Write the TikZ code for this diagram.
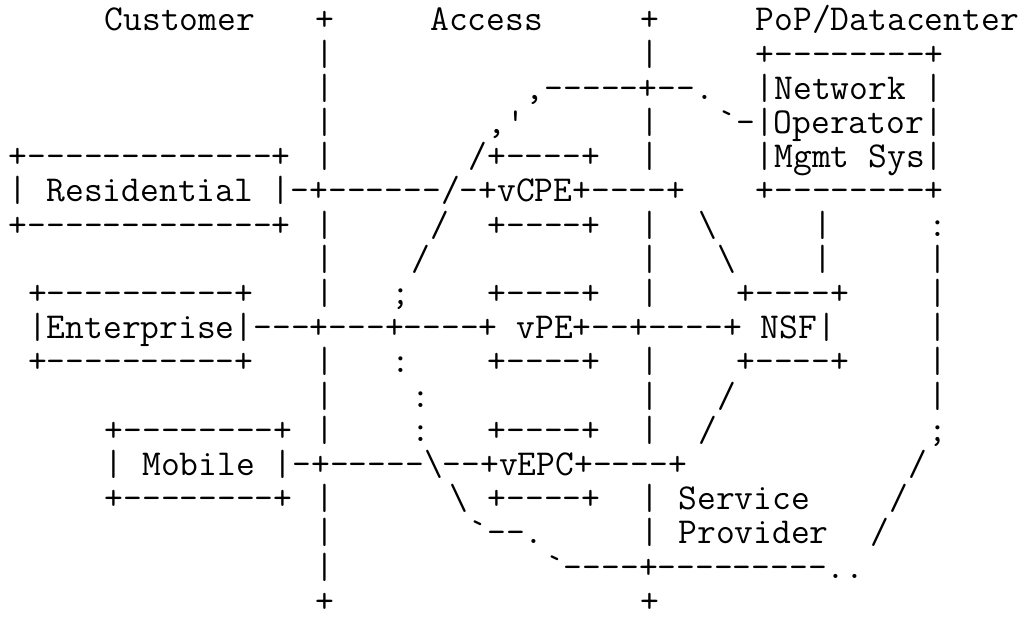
\documentclass[tikz,border=0pt]{standalone}
\usepackage{tikz}
\tikzset{art/.style={anchor=base west, inner sep=0pt, outer sep=0pt, font=\ttfamily\fontsize{18.24pt}{18pt}\selectfont}}

\begin{document}
\begin{tikzpicture}[x=9.575pt, y=-17.1pt]
			%%%%% START %%%%%
			\useasboundingbox (-0.466,-0.905) rectangle (53.32,17.282);
			
			\node[art] (hdcust) at (5,0) {Customer};
			\node[art] (hdplusa) at (16,0) {+};
			\node[art] (hdacc) at (22,0) {Access};
			\node[art] (hdplusb) at (33,0) {+};
			\node[art] (hdpop) at (39,0) {PoP/Datacenter};
			
			\foreach \r in {1,2,3,4,6,7,8,10,11,12,14,15,16}
				\node[art] (bara\r) at (16,\r) {|};
			\foreach \r in {1,3,4,6,7,8,10,11,12}
				\node[art] (barb\r) at (33,\r) {|};
			\foreach \r in {7,8,9,10,11}
				\node[art] (barc\r) at (48,\r) {|};
			\node[art] (enda) at (16,17) {+};
			\node[art] (endb) at (33,17) {+};
			
			\node[art] (nmstop) at (39,1) {+--------+};
			\node[art] (nmsa) at (39,2) {|Network |};
			\node[art] (nmsb) at (37,3) {\textasciigrave-|Operator|};
			\node[art] (nmsc) at (39,4) {|Mgmt Sys|};
			\node[art] (nmsbot) at (39,5) {+--------+};
			\node[art] (arctop) at (27,2) {,-----+--.};
			\node[art] (arcb) at (25,3) {,\textquotesingle};
			
			\node[art] (restop) at (0,4) {+-------------+};
			\node[art] (cpetop) at (24,4) {/+----+};
			\node[art] (resrow) at (0,5) {| Residential |-+------/-+vCPE+----+};
			\node[art] (resbot) at (0,6) {+-------------+};
			\node[art] (slasha) at (22,6) {/};
			\node[art] (cpebot) at (25,6) {+----+};
			\node[art] (bslasha) at (36,6) {\textbackslash};
			\node[art] (nmsline) at (42,6) {|};
			\node[art] (dotsa) at (48,6) {:};
			\node[art] (slashb) at (21,7) {/};
			\node[art] (bslashb) at (37,7) {\textbackslash};
			\node[art] (nmslineb) at (42,7) {|};
			
			\node[art] (enttop) at (1,8) {+----------+};
			\node[art] (semia) at (20,8) {;};
			\node[art] (petop) at (25,8) {+----+};
			\node[art] (nsftop) at (38,8) {+----+};
			\node[art] (entrow) at (1,9) {|Enterprise|---+---+----+ vPE+--+----+ NSF|};
			\node[art] (entbot) at (1,10) {+----------+};
			\node[art] (dotsb) at (20,10) {:};
			\node[art] (pebot) at (25,10) {+----+};
			\node[art] (nsfbot) at (38,10) {+----+};
			\node[art] (dotsc) at (21,11) {:};
			\node[art] (slashc) at (37,11) {/};
			
			\node[art] (mobtop) at (5,12) {+--------+};
			\node[art] (dotsd) at (21,12) {:};
			\node[art] (epctop) at (25,12) {+----+};
			\node[art] (slashd) at (36,12) {/};
			\node[art] (semib) at (48,12) {;};
			\node[art] (mobrow) at (5,13) {| Mobile |-+-----\textbackslash--+vEPC+----+};
			\node[art] (slashe) at (47,13) {/};
			\node[art] (mobbot) at (5,14) {+--------+};
			\node[art] (bslashc) at (23,14) {\textbackslash};
			\node[art] (epcbot) at (25,14) {+----+};
			\node[art] (spa) at (33,14) {| Service};
			\node[art] (slashf) at (46,14) {/};
			\node[art] (arcc) at (24,15) {\textasciigrave--.};
			\node[art] (spb) at (33,15) {| Provider};
			\node[art] (slashg) at (45,15) {/};
			\node[art] (arcbot) at (28,16) {\textasciigrave----+---------..};
			
			%%%%% END %%%%%
\end{tikzpicture}
\end{document}
